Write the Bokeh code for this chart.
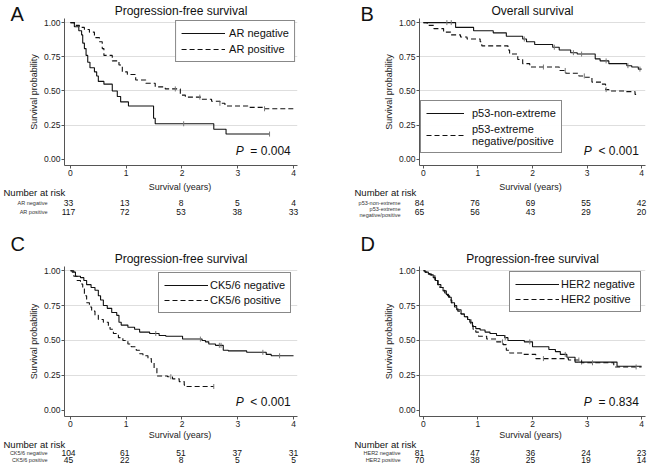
import numpy as np
from bokeh.plotting import figure
from bokeh.models import Range1d, FixedTicker, Legend, LegendItem, Label, NumeralTickFormatter
from bokeh.layouts import column, row
from bokeh.embed import file_html
from bokeh.resources import INLINE
from bokeh.core.properties import value

FONT = "Liberation Sans"
years = [0, 1, 2, 3, 4]

# ---------------- Panel A: AR ----------------
a_groups = ["AR negative", "AR positive"]
a_neg_t = [0, 0.07, 0.15, 0.20, 0.22, 0.25, 0.28, 0.31, 0.35, 0.43, 0.47, 0.50, 0.60, 0.75, 0.84, 0.90, 1.04, 1.49, 1.52, 2.57, 2.79]
a_neg_s = [1.0, 0.97, 0.94, 0.91, 0.85, 0.81, 0.76, 0.71, 0.67, 0.64, 0.61, 0.57, 0.55, 0.50, 0.46, 0.42, 0.39, 0.30, 0.26, 0.22, 0.185]
a_neg_end = 3.57
a_neg_cens = [2.03, 3.57]
a_pos_t = [0, 0.07, 0.16, 0.25, 0.34, 0.43, 0.52, 0.57, 0.60, 0.75, 0.87, 0.93, 1.02, 1.17, 1.35, 1.52, 1.70, 1.97, 2.06, 2.35, 2.53, 2.68, 2.77, 3.18, 3.48]
a_pos_s = [1.0, 0.98, 0.965, 0.95, 0.93, 0.89, 0.86, 0.81, 0.76, 0.72, 0.69, 0.64, 0.62, 0.58, 0.556, 0.53, 0.515, 0.47, 0.455, 0.44, 0.425, 0.41, 0.39, 0.38, 0.37]
a_pos_end = 4.0
a_pos_cens = [1.88, 2.32, 2.68, 3.48]
a_risk_neg = [33, 13, 8, 5, 4]
a_risk_pos = [117, 72, 53, 38, 33]

# ---------------- Panel B: p53 ----------------
b_groups = ["p53-non-extreme", "p53-extreme\nnegative/positive"]
b_non_t = [0, 0.59, 0.92, 1.28, 1.52, 1.82, 1.89, 2.04, 2.37, 2.49, 2.70, 2.82, 3.15, 3.24, 3.40, 3.73, 3.82, 3.94]
b_non_s = [1.0, 0.965, 0.94, 0.925, 0.90, 0.88, 0.86, 0.84, 0.82, 0.80, 0.78, 0.77, 0.735, 0.72, 0.70, 0.685, 0.675, 0.66]
b_non_end = 4.0
b_non_cens = [0.43, 0.51, 1.85, 2.4, 2.75, 2.9, 3.35, 3.75, 3.97]
b_ext_t = [0, 0.07, 0.19, 0.37, 0.50, 0.68, 0.80, 1.04, 1.07, 1.55, 1.58, 1.73, 1.82, 1.95, 2.49, 2.61, 2.85, 2.97, 3.09, 3.27, 3.34, 3.40, 3.70, 3.88]
b_ext_s = [1.0, 0.98, 0.956, 0.93, 0.91, 0.895, 0.88, 0.86, 0.83, 0.80, 0.77, 0.73, 0.70, 0.675, 0.65, 0.63, 0.61, 0.60, 0.565, 0.55, 0.51, 0.50, 0.495, 0.475]
b_ext_end = 3.9
b_ext_cens = [2.2, 2.6, 2.95, 3.35]
b_risk_non = [84, 76, 69, 55, 42]
b_risk_ext = [65, 56, 43, 29, 20]

# ---------------- Panel C: CK5/6 ----------------
c_groups = ["CK5/6 negative", "CK5/6 positive"]
c_neg_t = [0, 0.06, 0.09, 0.18, 0.24, 0.29, 0.37, 0.44, 0.50, 0.54, 0.59, 0.66, 0.74, 0.83, 0.87, 0.91, 1.03, 1.15, 1.24, 1.42, 1.59, 1.71, 2.01, 2.36, 2.42, 2.48, 2.60, 2.74, 2.83, 3.16, 3.51, 3.60]
c_neg_s = [1.0, 0.99, 0.96, 0.95, 0.93, 0.90, 0.88, 0.86, 0.82, 0.79, 0.75, 0.73, 0.70, 0.68, 0.63, 0.61, 0.595, 0.58, 0.56, 0.55, 0.535, 0.53, 0.51, 0.50, 0.49, 0.475, 0.465, 0.43, 0.425, 0.415, 0.40, 0.39]
c_neg_end = 4.0
c_neg_cens = [1.53, 2.33, 2.67, 2.70, 3.45, 3.75]
c_pos_t = [0, 0.03, 0.06, 0.12, 0.18, 0.22, 0.25, 0.29, 0.34, 0.38, 0.44, 0.50, 0.59, 0.68, 0.71, 0.77, 0.86, 0.94, 1.03, 1.09, 1.18, 1.24, 1.30, 1.39, 1.45, 1.50, 1.55, 1.74, 1.83, 1.95, 2.04, 2.09]
c_pos_s = [1.0, 0.99, 0.96, 0.93, 0.905, 0.87, 0.82, 0.77, 0.74, 0.71, 0.68, 0.65, 0.63, 0.60, 0.58, 0.55, 0.52, 0.50, 0.475, 0.455, 0.43, 0.405, 0.39, 0.37, 0.345, 0.30, 0.245, 0.24, 0.225, 0.205, 0.18, 0.17]
c_pos_end = 2.57
c_pos_cens = [1.8, 2.57]
c_risk_neg = [104, 61, 51, 37, 31]
c_risk_pos = [45, 22, 8, 5, 5]

# ---------------- Panel D: HER2 ----------------
d_groups = ["HER2 negative", "HER2 positive"]
d_neg_t = [0, 0.03, 0.09, 0.12, 0.18, 0.22, 0.27, 0.32, 0.36, 0.42, 0.46, 0.51, 0.57, 0.61, 0.69, 0.75, 0.81, 0.85, 0.90, 0.96, 1.04, 1.13, 1.22, 1.34, 1.49, 1.55, 1.85, 2.0, 2.30, 2.42, 2.51, 2.63, 2.78, 3.55]
d_neg_s = [1.0, 0.99, 0.98, 0.97, 0.95, 0.93, 0.90, 0.88, 0.855, 0.83, 0.81, 0.77, 0.75, 0.72, 0.69, 0.67, 0.65, 0.63, 0.60, 0.585, 0.575, 0.56, 0.55, 0.535, 0.52, 0.50, 0.49, 0.455, 0.435, 0.42, 0.40, 0.38, 0.345, 0.315]
d_neg_end = 4.0
d_neg_cens = [1.5, 1.95, 2.6, 2.9]
d_pos_t = [0, 0.03, 0.09, 0.15, 0.21, 0.26, 0.30, 0.36, 0.39, 0.44, 0.48, 0.52, 0.57, 0.63, 0.69, 0.75, 0.81, 0.87, 0.91, 0.96, 1.01, 1.16, 1.34, 1.46, 1.52, 1.58, 1.82, 2.06, 2.66, 2.90, 3.49]
d_pos_s = [1.0, 0.99, 0.975, 0.965, 0.93, 0.90, 0.88, 0.86, 0.84, 0.82, 0.79, 0.76, 0.74, 0.71, 0.69, 0.67, 0.65, 0.62, 0.58, 0.56, 0.53, 0.51, 0.49, 0.47, 0.43, 0.41, 0.40, 0.37, 0.36, 0.34, 0.31]
d_pos_end = 4.0
d_pos_cens = [1.45, 2.2, 2.85, 3.1, 3.9]
d_risk_neg = [81, 47, 36, 24, 23]
d_risk_pos = [70, 38, 25, 19, 14]

# panel-relative horizontal geometry (pixels)
PW = 325
GEO = {
    "left": dict(lw=25, letter_x=10, spine=62, x0=68, x4=293, fright=297, nar_x=3),
    "right": dict(lw=55, letter_x=35, spine=90, x0=94, x4=316, fright=320, nar_x=29),
}


def step_value(ts, ss, q):
    idx = np.searchsorted(np.array(ts), np.array(q), side="right") - 1
    return list(np.array(ss)[idx])


def no_align(fig):
    try:
        fig.frame_align = False
    except Exception:
        pass


def blank(fig):
    fig.outline_line_color = None
    fig.grid.visible = False
    fig.axis.visible = False
    no_align(fig)


def km_panel(side, top, frame_h, bottom, letter_y, letter, title, curves, labels, legend_loc,
             p_sign, p_val, groups, risk_a, risk_b, risk_h, risk_rows, legend_style):
    g = GEO[side]
    ppy = (g["x4"] - g["x0"]) / 4.0
    km_h = top + frame_h + bottom
    xr = Range1d((g["spine"] - g["x0"]) / ppy, 4 + (g["fright"] - g["x4"]) / ppy)

    # letter column
    lf = figure(width=g["lw"], height=km_h, x_range=Range1d(0, g["lw"]), y_range=Range1d(km_h, 0),
                output_backend="svg", toolbar_location=None, min_border=0)
    blank(lf)
    lf.text(x=[g["letter_x"]], y=[letter_y], text=[letter], text_font=value(FONT),
            text_font_size="20px", text_baseline="middle", text_align="left", text_color="#111111")

    p = figure(width=PW - g["lw"], height=km_h, x_range=xr, y_range=Range1d(-0.045, 1.03),
               output_backend="svg", toolbar_location=None,
               min_border_left=g["spine"] - g["lw"], min_border_right=PW - g["fright"],
               min_border_top=top, min_border_bottom=bottom)
    no_align(p)
    p.outline_line_color = None
    p.title.text = title
    p.title.align = "center"
    p.title.text_font = FONT
    p.title.text_font_size = "12px"
    p.title.text_font_style = "normal"
    p.title.text_color = "#111111"
    p.title.standoff = 2

    p.xgrid.visible = False
    p.ygrid.ticker = FixedTicker(ticks=[0.25, 0.5, 0.75, 1.0])
    p.ygrid.grid_line_color = "#dedede"

    p.xaxis.ticker = FixedTicker(ticks=years)
    p.yaxis.ticker = FixedTicker(ticks=[0, 0.25, 0.5, 0.75, 1.0])
    p.yaxis.formatter = NumeralTickFormatter(format="0.00")
    for ax in (p.xaxis, p.yaxis):
        ax.axis_line_color = "#555555"
        ax.major_tick_line_color = "#555555"
        ax.minor_tick_line_color = None
        ax.major_tick_out = 3
        ax.major_tick_in = 0
        ax.major_label_text_font = FONT
        ax.major_label_text_font_size = "8.5px"
        ax.major_label_text_color = "#222222"
        ax.major_label_standoff = 1
        ax.axis_label_text_font = FONT
        ax.axis_label_text_font_size = "9px"
        ax.axis_label_text_font_style = "normal"
        ax.axis_label_text_color = "#222222"
    p.yaxis.axis_label = "Survival probability"
    p.yaxis.axis_label_standoff = 2

    items = []
    for (ts, ss, end, cens, dash), lab in zip(curves, labels):
        xs = list(ts) + [end]
        ys = list(ss) + [ss[-1]]
        r = p.step(xs, ys, mode="after", line_color="#111111", line_width=1.1, line_dash=dash)
        p.scatter(cens, step_value(ts, ss, cens), marker="dash", angle=np.pi / 2,
                  size=5, line_color="#777777", line_width=1)
        items.append(LegendItem(label=lab, renderers=[r]))
    leg = Legend(items=items, location=legend_loc)
    leg.border_line_color = "#111111"
    leg.border_line_width = 1
    leg.label_text_font = FONT
    leg.label_text_font_size = "11px"
    leg.label_text_color = "#111111"
    leg.glyph_height = 14
    leg.margin = 2
    gw, st, sp, pad = legend_style
    leg.glyph_width = gw
    leg.label_standoff = st
    leg.spacing = sp
    leg.padding = pad
    p.add_layout(leg)

    p.add_layout(Label(x=3.95, y=0.012, text=p_sign, text_font=FONT, text_font_size="12px",
                       text_font_style="italic", text_align="right", x_offset=-47,
                       text_color="#111111"))
    p.add_layout(Label(x=3.95, y=0.012, text=p_val, text_font=FONT, text_font_size="12px",
                       text_align="right", text_color="#111111"))

    # risk table (full panel width, rows placed in pixels from its top)
    rf = figure(width=PW, height=risk_h, x_range=Range1d(-g["x0"] / ppy, (PW - g["x0"]) / ppy),
                y_range=Range1d(risk_h, 0), output_backend="svg", toolbar_location=None, min_border=0)
    blank(rf)
    y_lab, y_nar, y_r1, y_r2 = risk_rows
    xc = ((g["spine"] + g["fright"]) / 2.0 - g["x0"]) / ppy
    rf.text(x=[xc], y=[y_lab], text=["Survival (years)"], text_font=value(FONT), text_font_size="9px",
            text_align="center", text_baseline="middle", text_color="#222222")
    rf.text(x=[(g["nar_x"] - g["x0"]) / ppy], y=[y_nar], text=["Number at risk"], text_font=value(FONT),
            text_font_size="9.5px", text_align="left", text_baseline="middle", text_color="#111111")
    glx = (g["spine"] - 15 - g["x0"]) / ppy
    rf.text(x=[glx, glx], y=[y_r1, y_r2], text=groups, text_font=value(FONT), text_font_size="5.5px",
            text_align="right", text_baseline="middle", text_color="#333333",
            text_line_height=1.0)
    rf.text(x=years + years, y=[y_r1] * 5 + [y_r2] * 5, text=[str(v) for v in risk_a + risk_b],
            text_font=value(FONT), text_font_size="8.5px", text_align="center",
            text_baseline="middle", text_color="#111111")
    return column(row(lf, p, spacing=0), rf, spacing=0)


TOP = dict(top=16, frame_h=149, bottom=16, letter_y=13, risk_h=52, risk_rows=(5, 10.5, 21, 30))
BOT = dict(top=33, frame_h=150, bottom=14, letter_y=10, risk_h=37, risk_rows=(4.5, 14, 22, 29.5))

pa = km_panel("left", letter="A", title="Progression-free survival",
              curves=[(a_neg_t, a_neg_s, a_neg_end, a_neg_cens, "solid"),
                      (a_pos_t, a_pos_s, a_pos_end, a_pos_cens, "5 3")],
              labels=a_groups, legend_loc="top_right", p_sign="P", p_val="= 0.004",
              groups=a_groups, risk_a=a_risk_neg, risk_b=a_risk_pos,
              legend_style=(44, 4, 2, 5), **TOP)
pb = km_panel("right", letter="B", title="Overall survival",
              curves=[(b_non_t, b_non_s, b_non_end, b_non_cens, "solid"),
                      (b_ext_t, b_ext_s, b_ext_end, b_ext_cens, "5 3")],
              labels=b_groups, legend_loc=(1, 12), p_sign="P", p_val="< 0.001",
              groups=b_groups, risk_a=b_risk_non, risk_b=b_risk_ext,
              legend_style=(38, 8, 3, 5), **TOP)
pc = km_panel("left", letter="C", title="Progression-free survival",
              curves=[(c_neg_t, c_neg_s, c_neg_end, c_neg_cens, "solid"),
                      (c_pos_t, c_pos_s, c_pos_end, c_pos_cens, "5 3")],
              labels=c_groups, legend_loc=(94, 103), p_sign="P", p_val="< 0.001",
              groups=c_groups, risk_a=c_risk_neg, risk_b=c_risk_pos,
              legend_style=(44, 2, 1, 5), **BOT)
pd = km_panel("right", letter="D", title="Progression-free survival",
              curves=[(d_neg_t, d_neg_s, d_neg_end, d_neg_cens, "solid"),
                      (d_pos_t, d_pos_s, d_pos_end, d_pos_cens, "5 3")],
              labels=d_groups, legend_loc=(90, 104), p_sign="P", p_val="= 0.834",
              groups=d_groups, risk_a=d_risk_neg, risk_b=d_risk_pos,
              legend_style=(44, 2, 1, 5), **BOT)

layout = column(row(pa, pb, spacing=0), row(pc, pd, spacing=0), spacing=0)
open("out.html", "w").write(file_html(layout, INLINE))
